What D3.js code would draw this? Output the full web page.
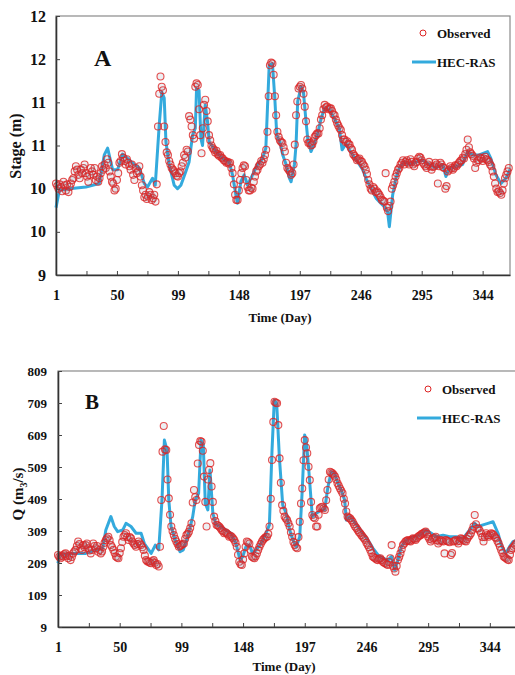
<!DOCTYPE html>
<html>
<head>
<meta charset="utf-8">
<script src="https://cdn.jsdelivr.net/npm/d3@7"></script>
<style>
    body { margin: 0; background: #fff; }
    text { font-family: "Liberation Serif", "Times New Roman", serif; font-weight: bold; fill: #111; }
</style>
</head>
<body>
<svg id="chart" width="515" height="675"></svg>
<script>

// daily observed values, day 1 .. 365
let stageObs = [
    10.06, 10.03, 10.00, 10.05, 10.02, 9.97, 10.08, 10.04, 9.98, 10.05,
    9.96, 10.02, 10.06, 10.10, 10.12, 10.20, 10.26, 10.22, 10.16, 10.12,
    10.22, 10.18, 10.24, 10.28, 10.18, 10.14, 10.08, 10.16, 10.24, 10.20,
    10.16, 10.24, 10.10, 10.14, 10.08, 10.12, 10.18, 10.26, 10.22, 10.28,
    10.24, 10.34, 10.30, 10.20, 10.14, 10.08, 10.06, 9.98, 10.00, 10.10,
    10.18, 10.30, 10.32, 10.40, 10.36, 10.32, 10.28, 10.34, 10.30, 10.26,
    10.22, 10.28, 10.16, 10.10, 10.24, 10.18, 10.20, 10.26, 10.14, 10.04,
    9.98, 9.90, 9.93, 9.88, 9.91, 9.96, 9.93, 9.87, 9.89, 9.93,
    9.85, 10.05, 10.72, 11.10, 11.30, 11.18, 11.14, 10.72, 10.54, 10.42,
    10.39, 10.32, 10.28, 10.24, 10.22, 10.20, 10.18, 10.15, 10.14, 10.18,
    10.20, 10.26, 10.30, 10.39, 10.36, 10.45, 10.43, 10.84, 10.80, 10.72,
    10.62, 10.58, 11.18, 11.22, 11.20, 10.92, 10.62, 10.41, 10.70, 10.97,
    11.03, 10.90, 10.78, 10.62, 10.56, 10.50, 10.47, 10.45, 10.42, 10.44,
    10.40, 10.38, 10.39, 10.36, 10.35, 10.33, 10.32, 10.30, 10.31, 10.29,
    10.30, 10.24, 10.18, 10.05, 9.93, 9.87, 9.87, 9.98, 10.10, 10.18,
    10.24, 10.27, 10.26, 10.10, 10.02, 9.98, 9.98, 10.01, 10.00, 10.08,
    10.14, 10.20, 10.22, 10.26, 10.28, 10.32, 10.30, 10.34, 10.39, 10.45,
    10.66, 11.07, 11.43, 11.46, 11.45, 11.32, 11.07, 10.85, 10.66, 10.60,
    10.56, 10.54, 10.53, 10.48, 10.43, 10.30, 10.24, 10.22, 10.20, 10.16,
    10.18, 10.28, 10.51, 10.85, 11.01, 11.16, 11.18, 11.20, 11.16, 11.10,
    10.95, 10.78, 10.57, 10.53, 10.53, 10.50, 10.51, 10.55, 10.60, 10.62,
    10.64, 10.64, 10.70, 10.80, 10.85, 10.92, 10.97, 10.94, 10.95, 10.92,
    10.93, 10.93, 10.90, 10.86, 10.85, 10.80, 10.76, 10.73, 10.70, 10.68,
    10.62, 10.57, 10.57, 10.54, 10.55, 10.52, 10.51, 10.47, 10.45, 10.40,
    10.38, 10.36, 10.33, 10.34, 10.35, 10.32, 10.31, 10.28, 10.26, 10.22,
    10.17, 10.10, 10.05, 10.00, 9.98, 10.02, 10.00, 9.96, 9.97, 9.95,
    9.93, 9.90, 9.87, 9.86, 9.85, 10.18, 9.78, 9.74, 9.80, 9.85,
    10.00, 10.04, 10.08, 10.14, 10.18, 10.22, 10.24, 10.28, 10.30, 10.33,
    10.28, 10.31, 10.33, 10.30, 10.28, 10.34, 10.31, 10.28, 10.26, 10.30,
    10.31, 10.35, 10.37, 10.36, 10.33, 10.30, 10.28, 10.26, 10.24, 10.28,
    10.31, 10.26, 10.22, 10.25, 10.26, 10.30, 10.28, 10.06, 10.26, 10.30,
    10.28, 10.25, 10.24, 10.00, 10.03, 10.20, 10.22, 10.26, 10.24, 10.22,
    10.24, 10.27, 10.26, 10.28, 10.30, 10.32, 10.33, 10.36, 10.35, 10.40,
    10.45, 10.57, 10.48, 10.42, 10.40, 10.38, 10.35, 10.24, 10.30, 10.33,
    10.33, 10.36, 10.35, 10.32, 10.35, 10.37, 10.34, 10.33, 10.31, 10.28,
    10.26, 10.20, 10.14, 10.06, 10.00, 9.96, 9.97, 9.95, 9.93, 9.98,
    10.06, 10.12, 10.16, 10.20, 10.24
];

let stageSimDays = [
    1, 3.7, 11.7, 25, 35.8, 39.8, 42.5, 46.5, 50.5, 54.5, 58.6, 63.9, 68, 72, 74.6, 78.6, 80.8,
    84, 86.1, 88, 89.4, 92, 96, 98.7, 101.4, 105.4, 108, 110.8, 113, 114, 116, 117.5, 118.8,
    121, 122.8, 124.2, 126.8, 129.5, 134.9, 140.2, 142.9, 145.6, 146.9, 149.6, 152.3, 155,
    159, 163, 167, 169.7, 172.4, 175, 176.9, 178.5, 181, 183.3, 186, 188.7, 190, 192.7, 194,
    195.3, 198, 199.9, 202, 203.4, 206, 208.7, 211.4, 214.1, 216.8, 220.8, 224.8, 228.8, 231,
    234.2, 236.8, 239.5, 243.5, 247.6, 250.2, 254.3, 258.3, 262.3, 265, 267.6, 269, 271.7,
    274.3, 277, 281, 285, 290.4, 295.8, 301.1, 306.5, 311.8, 314.5, 317.2, 322.5, 327.9,
    331.9, 336, 341.3, 348, 350.6, 354.7, 358.7, 362.7, 366
];

let stageSim = [
    9.78, 9.98, 10.00, 10.02, 10.06, 10.39, 10.47, 10.22, 10.22, 10.40, 10.35, 10.28, 10.24, 10.06, 10.02, 10.12, 10.04,
    10.74, 11.12, 11.05, 10.54, 10.28, 10.04, 10.00, 10.04, 10.20, 10.31, 10.62, 10.70, 11.16, 11.14, 10.58, 10.50,
    10.97, 10.78, 10.54, 10.49, 10.43, 10.35, 10.31, 10.16, 9.93, 9.83, 10.08, 10.16, 10.04,
    10.16, 10.28, 10.35, 10.47, 11.43, 11.45, 11.05, 10.62, 10.54, 10.39, 10.28, 10.12, 10.08, 10.28, 10.51,
    11.01, 11.18, 11.12, 10.78, 10.58, 10.43, 10.52, 10.64, 10.81, 10.93, 10.91, 10.81, 10.70, 10.45,
    10.52, 10.45, 10.39, 10.31, 10.22, 10.12, 10.00, 9.89, 9.83, 9.79, 9.73, 9.56, 9.93,
    10.12, 10.24, 10.31, 10.28, 10.31, 10.33, 10.28, 10.24, 10.28, 10.14, 10.24, 10.26, 10.28,
    10.43, 10.39, 10.39, 10.43, 10.35, 10.16, 10.06, 10.12, 10.22
];

let flowObs = [
    234, 228, 224, 232, 229, 236, 239, 230, 224, 232,
    218, 228, 239, 245, 250, 262, 276, 268, 255, 250,
    265, 258, 265, 270, 255, 248, 239, 250, 270, 262,
    255, 262, 244, 250, 239, 245, 260, 272, 281, 286,
    291, 280, 265, 258, 250, 240, 229, 226, 224, 240,
    255, 275, 291, 296, 302, 290, 281, 290, 286, 276,
    270, 265, 260, 268, 276, 270, 265, 258, 250, 232,
    218, 214, 213, 210, 208, 214, 218, 210, 203, 206,
    198, 260, 406, 557, 637, 564, 562, 470, 411, 360,
    323, 308, 296, 285, 276, 268, 260, 262, 265, 268,
    270, 285, 296, 300, 307, 318, 333, 398, 437, 415,
    406, 520, 578, 590, 588, 560, 479, 400, 323, 470,
    500, 521, 448, 400, 354, 340, 328, 326, 323, 318,
    312, 308, 302, 305, 302, 298, 291, 294, 291, 286,
    281, 272, 260, 235, 213, 205, 203, 220, 239, 260,
    276, 274, 270, 250, 229, 226, 224, 230, 239, 250,
    260, 268, 276, 282, 286, 290, 291, 300, 323, 410,
    531, 650, 713, 710, 708, 640, 536, 460, 390, 372,
    354, 348, 343, 333, 323, 305, 291, 275, 265, 258,
    255, 290, 338, 395, 442, 530, 593, 570, 552, 510,
    468, 400, 359, 352, 349, 323, 323, 360, 380, 383,
    385, 380, 375, 405, 437, 470, 494, 492, 489, 485,
    479, 470, 458, 450, 442, 435, 427, 410, 395, 370,
    354, 350, 349, 343, 338, 330, 323, 318, 312, 306,
    302, 296, 291, 286, 281, 272, 265, 258, 250, 240,
    229, 226, 224, 220, 218, 222, 224, 218, 213, 210,
    208, 205, 203, 212, 224, 265, 200, 192, 182, 200,
    218, 228, 239, 252, 265, 270, 276, 278, 281, 278,
    276, 282, 286, 284, 281, 286, 291, 294, 296, 300,
    302, 304, 307, 300, 291, 284, 276, 282, 286, 288,
    291, 280, 270, 276, 281, 278, 276, 239, 281, 278,
    276, 274, 234, 240, 276, 278, 281, 276, 270, 278,
    286, 284, 281, 278, 276, 284, 291, 296, 302, 312,
    323, 359, 330, 317, 317, 310, 302, 290, 276, 290,
    302, 296, 291, 296, 302, 300, 296, 290, 286, 278,
    270, 260, 250, 240, 229, 226, 224, 220, 218, 235,
    250, 255, 260, 265, 270
];

let flowSimDays = [
    1, 2, 10, 23, 31, 36.5, 39, 43, 45.7, 48.4, 52.4, 55, 59, 63, 67, 69.6, 75, 78.3, 81,
    83.6, 85.5, 87.6, 89, 90.8, 94.2, 97.9, 100.5, 104, 108, 110, 112.7, 114.6, 116.4, 118,
    120, 121.7, 124, 126.5, 130.5, 134.4, 138.4, 142.4, 145.6, 147.7, 150.3, 153, 155.6,
    158.3, 162.2, 166.2, 168.9, 171, 172.8, 174.7, 176.8, 179.5, 182.3, 185, 187.6, 190.3,
    193, 195, 196.9, 198.2, 200.4, 203, 206.2, 210.1, 212.8, 215.4, 218.1, 220.7, 223.4, 226,
    228.7, 230, 232.7, 235.3, 239.3, 243.2, 247.2, 251.2, 255.2, 259.1, 263.1, 265.8, 268.4,
    271, 273.7, 277.7, 283, 288.3, 293.5, 297.5, 301.5, 306.8, 312, 317.4, 322.7, 328, 331.9,
    334.6, 338.6, 342.5, 346.5, 350.5, 353.1, 356.6, 359.7, 362.4, 366
];

let flowSim = [
    208, 234, 239, 239, 250, 255, 312, 354, 323, 307, 312, 333, 323, 302, 302, 270, 239, 265, 250,
    406, 593, 562, 406, 323, 281, 244, 250, 291, 354, 406, 427, 593, 578, 395,
    375, 500, 364, 328, 323, 312, 302, 270, 218, 229, 260, 265, 239,
    250, 270, 302, 328, 562, 718, 708, 541, 390, 364, 312, 281, 260,
    291, 437, 609, 593, 489, 354, 364, 375, 375, 447, 494, 489, 458, 437,
    406, 343, 354, 343, 323, 302, 281, 255, 234, 224, 218, 229, 187,
    218, 260, 281, 291, 296, 312, 302, 291, 296, 291, 291, 286, 312, 333,
    323, 328, 333, 338, 302, 265, 239, 260, 276, 281
];

let dayTicks = [1, 50, 99, 148, 197, 246, 295, 344];
let dayMinorTicks = [25.5, 74.5, 123.5, 172.5, 221.5, 270.5, 319.5];

let stageTicks = [9, 9.5, 10, 10.5, 11, 11.5, 12];
let stageTickLabels = ['9', '10', '10', '11', '11', '12', '12'];

let flowTicks = [9, 109, 209, 309, 409, 509, 609, 709, 809];

let blue = '#33aadd';
let red = '#dd2424';

let svg = d3.select('#chart');


function draw_panel(p) {

    let x = d3.scaleLinear().domain([1, 366]).range([p.left, p.right]);
    let y = d3.scaleLinear().domain(p.yDomain).range([p.bottom, p.top]);

    let g = svg.append('g');

    // plot frame (top and right sides are light grey)
    g.append('rect')
        .attr('x', p.left)
        .attr('y', p.top)
        .attr('width', p.right - p.left)
        .attr('height', p.bottom - p.top)
        .attr('fill', 'none')
        .attr('stroke', '#8a8a8a')
        .attr('stroke-width', 1.2);

    // HEC-RAS line
    let simData = p.simDays.map((d, i) => ({ day: d, v: p.sim[i] }));
    let line = d3.line()
        .x(d => x(d.day))
        .y(d => y(d.v));

    g.append('path')
        .datum(simData)
        .attr('d', line)
        .attr('fill', 'none')
        .attr('stroke', blue)
        .attr('stroke-width', 3)
        .attr('stroke-linejoin', 'round');

    // observed circles, one per day
    let obsData = p.obs.map((v, i) => ({ day: 1 + i, v: v }));
    g.selectAll('.obs')
        .data(obsData)
        .join('circle')
        .attr('class', 'obs')
        .attr('cx', d => x(d.day))
        .attr('cy', d => y(d.v))
        .attr('r', 3.5)
        .attr('fill', 'rgba(100,120,160,0.12)')
        .attr('stroke', red)
        .attr('stroke-opacity', 0.8)
        .attr('stroke-width', 1.1);

    // x axis, ticks pointing inward
    let xAxis = d3.axisBottom(x)
        .tickValues(dayTicks.concat(dayMinorTicks))
        .tickFormat(d => dayTicks.includes(d) ? d : '')
        .tickSizeInner(-4)
        .tickSizeOuter(0)
        .tickPadding(15);

    let gx = g.append('g')
        .attr('transform', 'translate(0,' + p.bottom + ')')
        .call(xAxis);
    gx.selectAll('text')
        .attr('font-size', p.xFont + 'px')
        .attr('font-family', null);

    // y axis
    let yAxis = d3.axisLeft(y)
        .tickValues(p.yTicks)
        .tickFormat((d, i) => p.yLabels[i])
        .tickSizeInner(-4)
        .tickSizeOuter(0)
        .tickPadding(p.yPad);

    let gy = g.append('g')
        .attr('transform', 'translate(' + p.left + ',0)')
        .call(yAxis);
    gy.selectAll('text')
        .attr('font-size', p.yFont + 'px')
        .attr('font-family', null);

    g.selectAll('.domain').attr('stroke', '#333').attr('stroke-width', 1.6);
    g.selectAll('.tick line').attr('stroke', '#444').attr('stroke-width', 1);

    // panel letter
    g.append('text')
        .attr('x', p.letterX)
        .attr('y', p.letterY)
        .attr('font-size', p.letterSize + 'px')
        .text(p.letter);

    // axis titles
    g.append('text')
        .attr('x', p.xTitleX)
        .attr('y', p.xTitleY)
        .attr('text-anchor', 'middle')
        .attr('font-size', '13px')
        .text('Time (Day)');

    let yt = g.append('text')
        .attr('transform', 'translate(' + p.yTitleX + ',' + p.yTitleY + ') rotate(-90)')
        .attr('text-anchor', 'middle')
        .attr('font-size', p.yTitleSize + 'px');
    p.yTitle(yt);

    // legend
    g.append('circle')
        .attr('cx', p.legX - 14)
        .attr('cy', p.legY - 5)
        .attr('r', 3)
        .attr('fill', 'none')
        .attr('stroke', red)
        .attr('stroke-width', 1);
    g.append('text')
        .attr('x', p.legX)
        .attr('y', p.legY)
        .attr('font-size', '13px')
        .text('Observed');
    g.append('line')
        .attr('x1', p.legX - 25)
        .attr('x2', p.legX - 1)
        .attr('y1', p.legY + 24)
        .attr('y2', p.legY + 24)
        .attr('stroke', blue)
        .attr('stroke-width', 3);
    g.append('text')
        .attr('x', p.legX)
        .attr('y', p.legY + 29)
        .attr('font-size', '13px')
        .text('HEC-RAS');
}


// Panel A : stage
draw_panel({
    left: 56, right: 510, top: 16, bottom: 275,
    yDomain: [9, 12], yTicks: stageTicks, yLabels: stageTickLabels,
    obs: stageObs, simDays: stageSimDays, sim: stageSim,
    xFont: 14, yFont: 16, yPad: 10,
    letter: 'A', letterX: 94, letterY: 66, letterSize: 24,
    xTitleX: 280, xTitleY: 322,
    yTitleX: 21, yTitleY: 146, yTitleSize: 16,
    yTitle: t => t.text('Stage (m)'),
    legX: 437, legY: 38
});

// Panel B : discharge
draw_panel({
    left: 58, right: 58 + 365 * 1.259, top: 371, bottom: 627,
    yDomain: [9, 809], yTicks: flowTicks, yLabels: flowTicks.map(String),
    obs: flowObs, simDays: flowSimDays, sim: flowSim,
    xFont: 14, yFont: 13, yPad: 11,
    letter: 'B', letterX: 85, letterY: 409, letterSize: 21,
    xTitleX: 284, xTitleY: 671,
    yTitleX: 23, yTitleY: 494, yTitleSize: 15,
    yTitle: t => {
        t.append('tspan').text('Q (m');
        t.append('tspan').attr('font-size', '10px').attr('dy', 4).text('3');
        t.append('tspan').attr('dy', -4).text('/s)');
    },
    legX: 442, legY: 394
});

</script>
</body>
</html>
